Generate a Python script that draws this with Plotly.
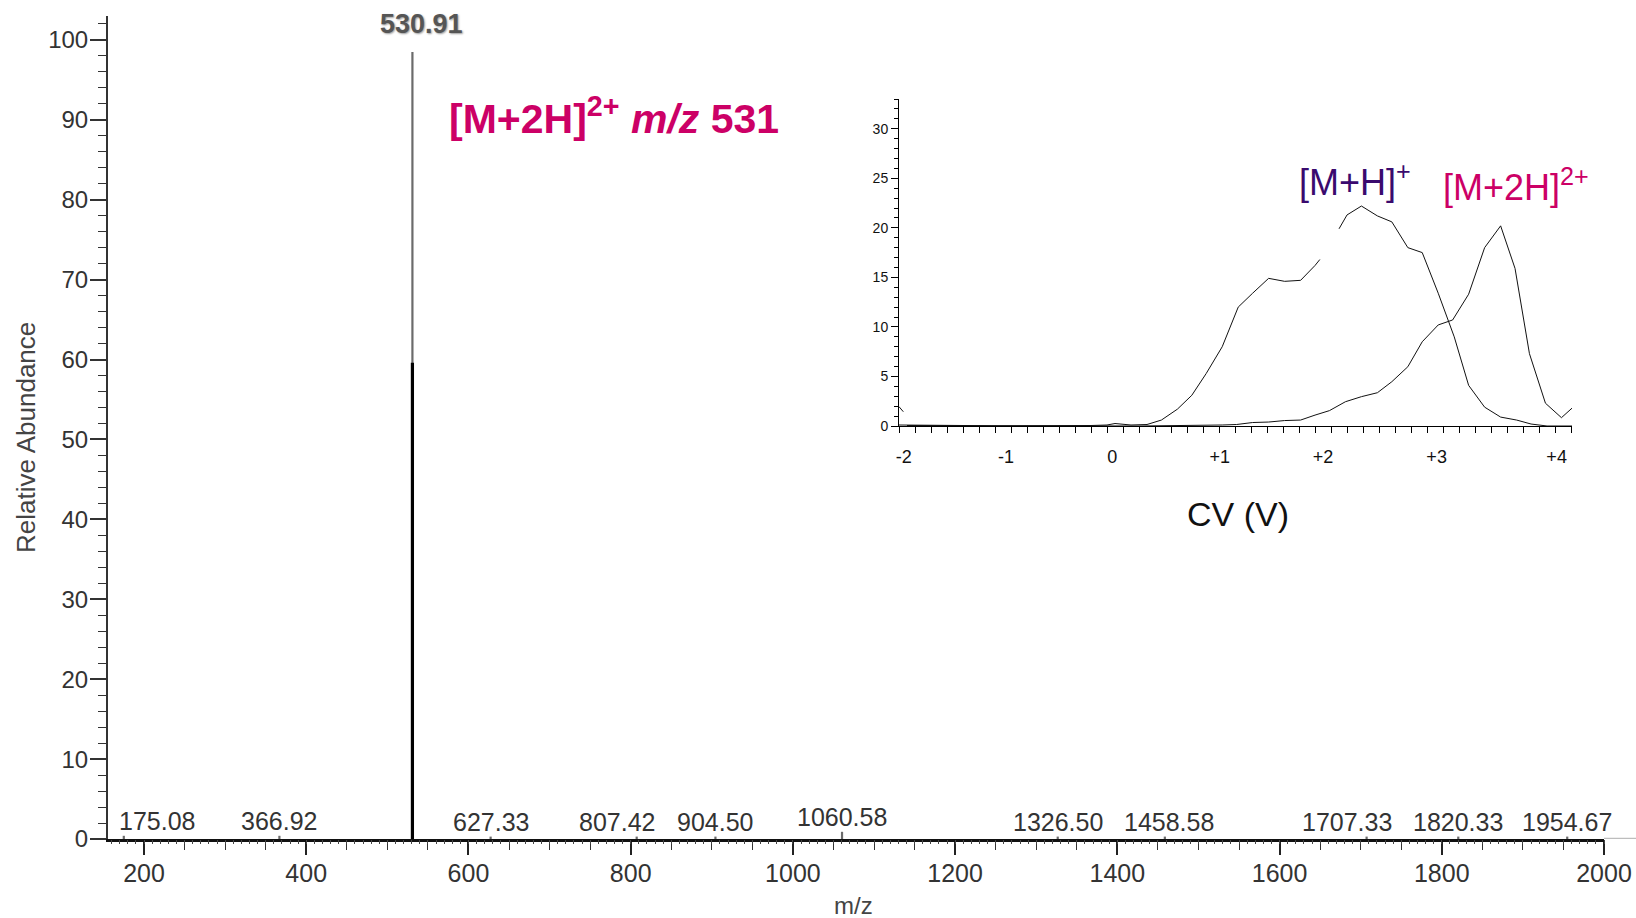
import plotly.graph_objects as go

# ---------------- data: mass spectrum ----------------
PEAK_MZ = [175.08, 366.92, 530.91, 627.33, 807.42, 904.50, 1060.58,
           1326.50, 1458.58, 1707.33, 1820.33, 1954.67]
PEAK_INT = [0.4, 0.4, 98.5, 0.3, 0.3, 0.3, 0.9, 0.3, 0.3, 0.3, 0.3, 0.3]
BASE_PEAK_MZ = 530.91
BASE_PEAK_OVERLAY = 59.6          # darker overlaid stick of the base peak
X_RANGE = [155.6, 2000]
Y_RANGE = [0, 103]

# ---------------- data: CV inset (x = CV scan step) ----------------
CV_STEP_H = [0, 2, 4, 6, 8, 10, 12, 13.0, 13.5, 14.5, 15.5, 16.4, 17.4, 18.3, 19.2,
             20.2, 21.2, 22.1, 23.1, 24.1, 25.1, 26.0, 26.3, None, 27.5, 28.0, 28.9,
             29.9, 30.8, 31.8, 32.7, 33.7, 34.7, 35.6, 36.6, 37.6, 38.6, 39.5, 40.5, 42.06]
CV_INT_H = [0.1, 0.1, 0.05, 0, 0, 0.05, 0.05, 0.1, 0.25, 0.1, 0.15, 0.6, 1.7, 3.1, 5.3,
            8.0, 12.0, 13.4, 14.9, 14.6, 14.7, 16.2, 16.8, None, 19.9, 21.3, 22.2,
            21.2, 20.6, 18.0, 17.5, 13.4, 9.0, 4.1, 1.9, 0.9, 0.6, 0.2, 0.0, 0.0]
CV_STEP_2H = [0, 0.27, None, 0.5, 5, 10, 15, 20.2, 21.1, 22.1, 23.1, 24.1, 25.1, 26.0,
              26.9, 27.9, 28.9, 29.9, 30.8, 31.8, 32.7, 33.7, 34.6, 35.6, 36.6, 37.6,
              38.5, 39.4, 40.4, 41.4, 42.06]
CV_INT_2H = [1.95, 1.44, None, 0.05, 0.05, 0, 0, 0.1, 0.15, 0.35, 0.4, 0.55, 0.6, 1.1,
             1.55, 2.45, 2.96, 3.36, 4.47, 5.98, 8.5, 10.2, 10.7, 13.3, 18.0, 20.2,
             15.9, 7.3, 2.3, 0.84, 1.8]
CV_TICK_TEXT = ["-2", "-1", "0", "+1", "+2", "+3", "+4"]
CV_TICK_STEP = [0.29, 6.68, 13.33, 20.05, 26.5, 33.6, 41.1]
CV_X_RANGE = [0, 42.06]
CV_Y_RANGE = [0, 33]

# ---------------- styling ----------------
FONT = "Arial, 'Liberation Sans', sans-serif"
MAGENTA = "#CC0066"
PURPLE = "#3A0A6E"
TXT = "#333333"
W, H = 1636, 918
ML, MR, MT, MB = 108, 32, 16, 79
PW, PH = W - ML - MR, H - MT - MB


def px(xp):
    return (xp - ML) / PW


def py(yp):
    return (H - MB - yp) / PH


# label horizontal nudges (pixels) for crowded labels
LABEL_XSHIFT = {175.08: 33, 807.42: -20, 1707.33: -20, 1458.58: 4}

fig = go.Figure()

# stick spectrum
sx, sy = [], []
for m, i in zip(PEAK_MZ, PEAK_INT):
    sx += [m, m, None]
    sy += [0, i, None]
fig.add_trace(go.Scatter(x=sx, y=sy, mode="lines", line=dict(color="#6b6b6b", width=2.2),
                         hoverinfo="skip", showlegend=False, xaxis="x", yaxis="y"))
fig.add_trace(go.Scatter(x=[BASE_PEAK_MZ, BASE_PEAK_MZ], y=[0, BASE_PEAK_OVERLAY], mode="lines",
                         line=dict(color="#000000", width=3.2), hoverinfo="skip",
                         showlegend=False, xaxis="x", yaxis="y"))
# invisible trace for fine tick overlay axis
fig.add_trace(go.Scatter(x=X_RANGE, y=[0, 0], mode="lines", line=dict(width=0),
                         hoverinfo="skip", showlegend=False, xaxis="x3", yaxis="y"))

# inset curves
fig.add_trace(go.Scatter(x=CV_STEP_H, y=CV_INT_H, mode="lines", line=dict(color="#111", width=1),
                         connectgaps=False, hoverinfo="skip", showlegend=False,
                         xaxis="x2", yaxis="y2"))
fig.add_trace(go.Scatter(x=CV_STEP_2H, y=CV_INT_2H, mode="lines", line=dict(color="#111", width=1),
                         connectgaps=False, hoverinfo="skip", showlegend=False,
                         xaxis="x2", yaxis="y2"))

annotations = []
for m, i in zip(PEAK_MZ, PEAK_INT):
    if m == BASE_PEAK_MZ:
        annotations.append(dict(x=m, y=i, xref="x", yref="y", text=f"{m:.2f}",
                                showarrow=False, xanchor="center", yanchor="bottom",
                                yshift=11, xshift=9,
                                font=dict(family=FONT, size=27, color="#555555",
                                          weight="bold", shadow="1px 1px 2px #9a9a9a")))
    else:
        annotations.append(dict(x=m, y=i, xref="x", yref="y", text=f"{m:.2f}",
                                showarrow=False, xanchor="center", yanchor="bottom", yshift=-1,
                                xshift=LABEL_XSHIFT.get(m, 0),
                                font=dict(family=FONT, size=25, color=TXT)))

annotations += [
    dict(x=px(614), y=py(116), xref="paper", yref="paper", showarrow=False,
         xanchor="center", yanchor="middle",
         text="<b>[M+2H]<sup>2+</sup> <i>m/z</i> 531</b>",
         font=dict(family=FONT, size=41, color=MAGENTA)),
    dict(x=px(1355), y=py(180), xref="paper", yref="paper", showarrow=False,
         xanchor="center", yanchor="middle",
         text="[M+H]<sup>+</sup>", font=dict(family=FONT, size=36, color=PURPLE)),
    dict(x=px(1516), y=py(185), xref="paper", yref="paper", showarrow=False,
         xanchor="center", yanchor="middle",
         text="[M+2H]<sup>2+</sup>", font=dict(family=FONT, size=36, color=MAGENTA)),
    dict(x=px(1238), y=py(514), xref="paper", yref="paper", showarrow=False,
         xanchor="center", yanchor="middle",
         text="CV (V)", font=dict(family=FONT, size=34, color="#111")),
    dict(x=px(26), y=py(438), xref="paper", yref="paper", showarrow=False,
         xanchor="center", yanchor="middle",
         text="Relative Abundance", textangle=-90,
         font=dict(family=FONT, size=26, color="#444")),
    dict(x=px(853), y=py(905), xref="paper", yref="paper", showarrow=False,
         xanchor="center", yanchor="middle",
         text="m/z", font=dict(family=FONT, size=24, color="#444")),
]

inset_x0, inset_x1 = px(899), px(1572)
inset_y0, inset_y1 = py(426), py(99)

fig.update_layout(
    width=W, height=H,
    margin=dict(l=ML, r=MR, t=MT, b=MB, autoexpand=False),
    paper_bgcolor="white", plot_bgcolor="white",
    showlegend=False,
    annotations=annotations,
    xaxis=dict(range=X_RANGE, domain=[0, 1], anchor="y", automargin=False, showline=True,
               linecolor="#111", linewidth=2.5, showgrid=False, zeroline=False,
               ticks="outside", ticklen=13, tickwidth=1.5, tickcolor="#222", tick0=0,
               dtick=200, ticklabelstandoff=-3,
               tickfont=dict(family=FONT, size=25, color=TXT),
               minor=dict(ticks="outside", dtick=50, tick0=0, ticklen=8, tickwidth=1.3,
                          tickcolor="#333")),
    xaxis3=dict(range=X_RANGE, overlaying="x", anchor="y", side="bottom", automargin=False,
                showline=False, showgrid=False, zeroline=False, ticks="outside", ticklen=4,
                tickwidth=1, tickcolor="#444", tick0=0, dtick=10, showticklabels=False),
    yaxis=dict(range=Y_RANGE, domain=[0, 1], anchor="x", automargin=False, showline=True,
               linecolor="#333", linewidth=2, showgrid=False, zeroline=False,
               ticks="outside", ticklen=16, tickwidth=1.5, tickcolor="#333",
               ticklabelstandoff=-3,
               tickvals=[0, 10, 20, 30, 40, 50, 60, 70, 80, 90, 100],
               tickfont=dict(family=FONT, size=24, color=TXT),
               minor=dict(ticks="outside", dtick=2, tick0=0, ticklen=8, tickwidth=1.3,
                          tickcolor="#333")),
    xaxis2=dict(range=CV_X_RANGE, domain=[inset_x0, inset_x1], anchor="y2", automargin=False,
                showline=True, linecolor="#000", linewidth=1, showgrid=False, zeroline=False,
                tickmode="array", tickvals=CV_TICK_STEP, ticktext=CV_TICK_TEXT,
                ticks="", ticklabelstandoff=14,
                tickfont=dict(family=FONT, size=18, color="#111"),
                minor=dict(ticks="outside", dtick=1, tick0=0, ticklen=6, tickwidth=1,
                           tickcolor="#000")),
    yaxis2=dict(range=CV_Y_RANGE, domain=[inset_y0, inset_y1], anchor="x2", automargin=False,
                showline=True, linecolor="#000", linewidth=1, showgrid=False, zeroline=False,
                ticks="outside", ticklen=7, tickwidth=1, tickcolor="#000",
                tickvals=[0, 5, 10, 15, 20, 25, 30],
                tickfont=dict(family=FONT, size=14, color="#111"),
                minor=dict(ticks="outside", dtick=1, tick0=0, ticklen=4, tickwidth=1,
                           tickcolor="#000")),
    shapes=[dict(type="line", xref="paper", yref="y", x0=1.0, x1=1.0 + MR / PW, y0=0, y1=0,
                 line=dict(color="#bdbdbd", width=2.5))],
)

fig.write_html("out.html", config={"displayModeBar": False},
               post_script="document.body.style.margin='0px';"
                           "document.body.style.overflow='hidden';")
